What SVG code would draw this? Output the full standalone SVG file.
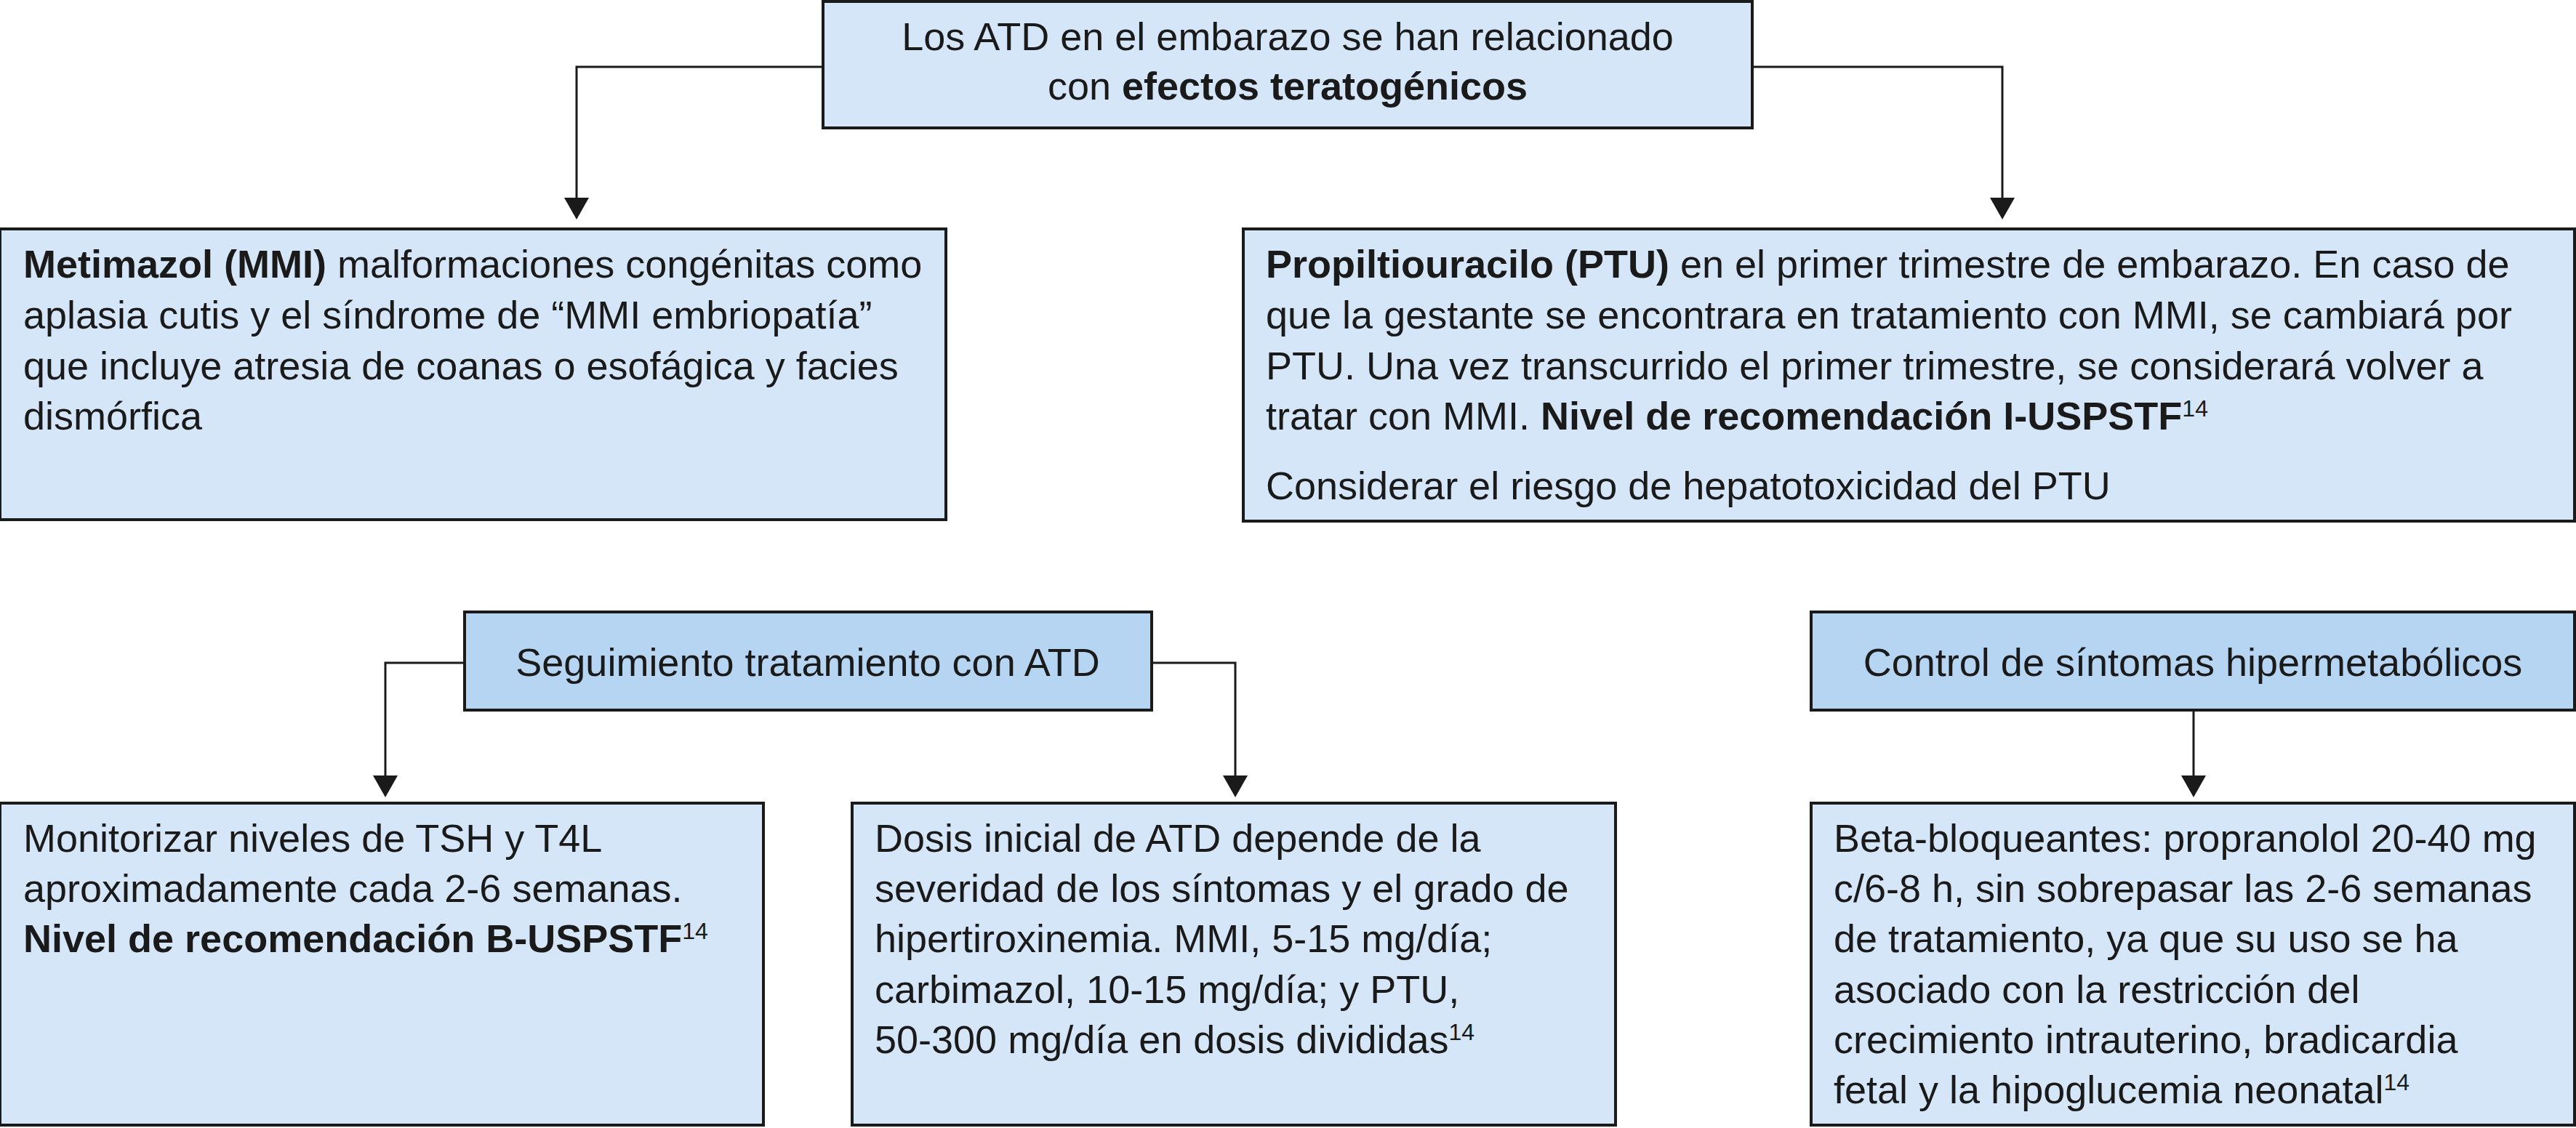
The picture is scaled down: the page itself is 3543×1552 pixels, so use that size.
<svg xmlns="http://www.w3.org/2000/svg" width="3543" height="1552" viewBox="0 0 3543 1552">
<style>
.box{fill:#d5e6f8;stroke:#1a1a1a;stroke-width:4}
.hdr{fill:#b5d5f2;stroke:#1a1a1a;stroke-width:4}
text{font-family:"Liberation Sans",Arial,sans-serif;font-size:54px;fill:#1a1a1a}
.c{text-anchor:middle}
.b{font-weight:bold}
.sup{font-size:32px}
.conn{fill:none;stroke:#1a1a1a;stroke-width:3}
</style>
<defs>
<marker id="arr" markerUnits="userSpaceOnUse" markerWidth="34" markerHeight="34" viewBox="0 0 30 34" refX="0" refY="17" orient="auto">
<path d="M0,0 L30,17 L0,34 z" fill="#1a1a1a"/>
</marker>
</defs>
<rect width="3543" height="1552" fill="#ffffff"/>
<g id="connectors">
<path class="conn" d="M1132,92 H793 V272" marker-end="url(#arr)"/>
<path class="conn" d="M2410,92 H2754 V272" marker-end="url(#arr)"/>
<path class="conn" d="M639,912 H530 V1067" marker-end="url(#arr)"/>
<path class="conn" d="M1584,912 H1699 V1067" marker-end="url(#arr)"/>
<path class="conn" d="M3017,977 V1067" marker-end="url(#arr)"/>
</g>
<g id="top">
<rect class="box" x="1132" y="2" width="1278" height="174"/>
<text class="c" x="1771" y="69">Los ATD en el embarazo se han relacionado</text>
<text class="c" x="1771" y="137">con <tspan class="b">efectos teratogénicos</tspan></text>
</g>
<g id="mmi">
<rect class="box" x="0" y="315" width="1301" height="400"/>
<text x="32" y="382"><tspan class="b">Metimazol (MMI)</tspan> malformaciones congénitas como</text>
<text x="32" y="452">aplasia cutis y el síndrome de “MMI embriopatía”</text>
<text x="32" y="522">que incluye atresia de coanas o esofágica y facies</text>
<text x="32" y="591">dismórfica</text>
</g>
<g id="ptu">
<rect class="box" x="1710" y="315" width="1831" height="402"/>
<text x="1741" y="382"><tspan class="b">Propiltiouracilo (PTU)</tspan> en el primer trimestre de embarazo. En caso de</text>
<text x="1741" y="452">que la gestante se encontrara en tratamiento con MMI, se cambiará por</text>
<text x="1741" y="522">PTU. Una vez transcurrido el primer trimestre, se considerará volver a</text>
<text x="1741" y="591">tratar con MMI. <tspan class="b">Nivel de recomendación I-USPSTF</tspan><tspan class="sup" dy="-18">14</tspan></text>
<text x="1741" y="687">Considerar el riesgo de hepatotoxicidad del PTU</text>
</g>
<g id="seguimiento">
<rect class="hdr" x="639" y="842" width="945" height="135"/>
<text class="c" x="1111" y="930">Seguimiento tratamiento con ATD</text>
</g>
<g id="control">
<rect class="hdr" x="2491" y="842" width="1050" height="135"/>
<text class="c" x="3016" y="930">Control de síntomas hipermetabólicos</text>
</g>
<g id="monitorizar">
<rect class="box" x="0" y="1105" width="1050" height="443"/>
<text x="32" y="1172">Monitorizar niveles de TSH y T4L</text>
<text x="32" y="1241">aproximadamente cada 2-6 semanas.</text>
<text x="32" y="1310"><tspan class="b">Nivel de recomendación B-USPSTF</tspan><tspan class="sup" dy="-18">14</tspan></text>
</g>
<g id="dosis">
<rect class="box" x="1172" y="1105" width="1050" height="443"/>
<text x="1203" y="1172">Dosis inicial de ATD depende de la</text>
<text x="1203" y="1241">severidad de los síntomas y el grado de</text>
<text x="1203" y="1310">hipertiroxinemia. MMI, 5-15 mg/día;</text>
<text x="1203" y="1380">carbimazol, 10-15 mg/día; y PTU,</text>
<text x="1203" y="1449">50-300 mg/día en dosis divididas<tspan class="sup" dy="-18">14</tspan></text>
</g>
<g id="beta">
<rect class="box" x="2491" y="1105" width="1050" height="443"/>
<text x="2522" y="1172">Beta-bloqueantes: propranolol 20-40 mg</text>
<text x="2522" y="1241">c/6-8 h, sin sobrepasar las 2-6 semanas</text>
<text x="2522" y="1310">de tratamiento, ya que su uso se ha</text>
<text x="2522" y="1380">asociado con la restricción del</text>
<text x="2522" y="1449">crecimiento intrauterino, bradicardia</text>
<text x="2522" y="1518">fetal y la hipoglucemia neonatal<tspan class="sup" dy="-18">14</tspan></text>
</g>
</svg>
